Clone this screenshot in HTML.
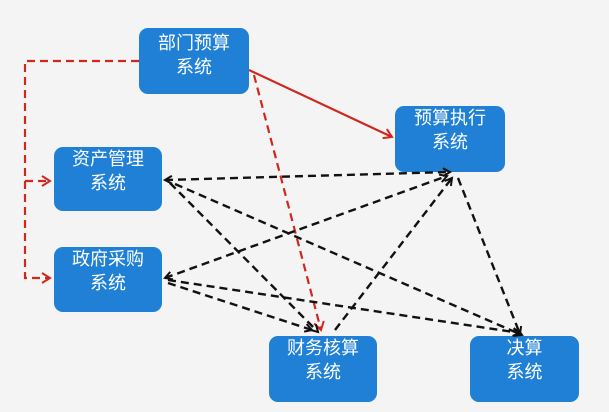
<!DOCTYPE html>
<html><head><meta charset="utf-8"><style>
html,body{margin:0;padding:0;background:#f4f4f4;width:609px;height:412px;overflow:hidden;position:relative}
.b{position:absolute;background:#1f80d6;border-radius:9px;color:#fff;font-family:"Liberation Sans","Noto Sans CJK SC",sans-serif;font-size:18px;line-height:24px;text-align:center;padding-top:0px;box-sizing:border-box}
svg{position:absolute;left:0;top:0}
</style></head><body>
<div class="b" style="left:139px;top:28px;width:110px;height:66px;padding-top:3px">部门预算<br>系统</div>
<div class="b" style="left:395px;top:106px;width:110px;height:66px">预算执行<br>系统</div>
<div class="b" style="left:54px;top:147px;width:108px;height:64px">资产管理<br>系统</div>
<div class="b" style="left:54px;top:247px;width:108px;height:65px">政府采购<br>系统</div>
<div class="b" style="left:269px;top:336px;width:108px;height:66px">财务核算<br>系统</div>
<div class="b" style="left:470px;top:336px;width:109px;height:66px">决算<br>系统</div>
<svg width="609" height="412" viewBox="0 0 609 412">
<defs>
<marker id="ab" markerWidth="10" markerHeight="10" refX="8" refY="5" orient="auto-start-reverse" markerUnits="userSpaceOnUse"><path d="M1,1 L8,5 L1,9" fill="none" stroke="#111" stroke-width="2"/></marker>
<marker id="ar" markerWidth="12" markerHeight="12" refX="9" refY="6" orient="auto-start-reverse" markerUnits="userSpaceOnUse"><path d="M1,1 L9,6 L1,11" fill="none" stroke="#d0281e" stroke-width="2"/></marker>
</defs>
<g fill="none" stroke="#d0281e" stroke-width="2.2">
<path d="M139,61 L25,61 L25,278 L50,278" stroke-dasharray="8,5" marker-end="url(#ar)"/>
<path d="M25,181 L50,181" stroke-dasharray="8,5" marker-end="url(#ar)"/>
<path d="M249,70 L392,137" marker-end="url(#ar)"/>
<path d="M254,75 L321,330" stroke-dasharray="8,5" marker-end="url(#ar)"/>
</g>
<g fill="none" stroke="#111" stroke-width="2.4" stroke-dasharray="8,5">
<path d="M165,180 L450,172" marker-start="url(#ab)" marker-end="url(#ab)"/>
<path d="M170,183 L318,332" marker-end="url(#ab)"/>
<path d="M175,184 L522,335" marker-end="url(#ab)"/>
<path d="M165,278 L447,176" marker-start="url(#ab)" marker-end="url(#ab)"/>
<path d="M168,283 L312,330" marker-end="url(#ab)"/>
<path d="M168,280 L520,333" marker-end="url(#ab)"/>
<path d="M335,330 L452,178" marker-end="url(#ab)"/>
<path d="M458,178 L520,334" marker-end="url(#ab)"/>
</g>
</svg>
</body></html>
